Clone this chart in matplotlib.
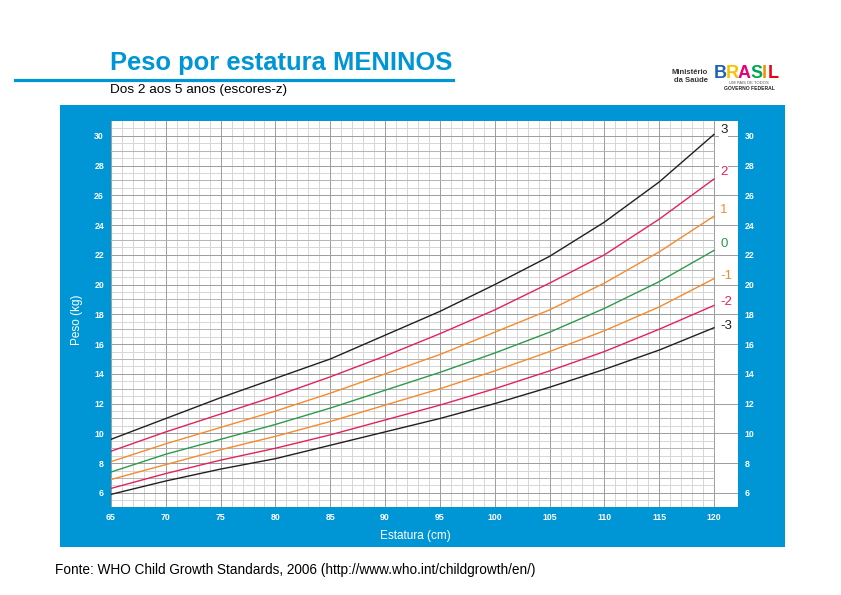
import matplotlib.pyplot as plt
from matplotlib.patches import Rectangle
from matplotlib.lines import Line2D

# estatura (cm) and weight for each z-score line (kg)
estatura = [65, 70, 75, 80, 85, 90, 95, 100, 105, 110, 115, 120]
z_m3 = [5.9, 6.8, 7.6, 8.3, 9.2, 10.1, 11.0, 12.0, 13.1, 14.3, 15.6, 17.1]
z_m2 = [6.3, 7.3, 8.2, 9.0, 9.9, 10.9, 11.9, 13.0, 14.2, 15.5, 17.0, 18.6]
z_m1 = [6.9, 7.9, 8.9, 9.8, 10.8, 11.9, 13.0, 14.2, 15.5, 16.9, 18.5, 20.4]
z_0 = [7.4, 8.6, 9.6, 10.6, 11.7, 12.9, 14.1, 15.4, 16.8, 18.4, 20.2, 22.3]
z_p1 = [8.1, 9.3, 10.4, 11.5, 12.7, 14.0, 15.3, 16.8, 18.3, 20.1, 22.2, 24.6]
z_p2 = [8.8, 10.1, 11.3, 12.5, 13.8, 15.2, 16.7, 18.3, 20.1, 22.0, 24.4, 27.1]
z_p3 = [9.6, 11.0, 12.4, 13.7, 15.0, 16.6, 18.2, 20.0, 21.9, 24.2, 26.9, 30.1]

z_labels = ['3', '2', '1', '0', '-1', '-2', '-3']
z_series = [z_p3, z_p2, z_p1, z_0, z_m1, z_m2, z_m3]
label_y = [30.4, 27.55, 25.0, 22.7, 20.6, 18.8, 17.2]

BLUE = '#0096d6'
BLACK = '#231f20'
RED = '#e2235a'
ORANGE = '#f58a2e'
GREEN = '#2c9a4b'
z_colors = [BLACK, RED, ORANGE, GREEN, ORANGE, RED, BLACK]

W, H = 841, 595
def fx(x):
    return x / W
def fy(y):
    return 1 - y / H

plt.rcParams['font.family'] = ['Liberation Sans', 'DejaVu Sans']
fig = plt.figure(figsize=(W / 100, H / 100), dpi=100)
fig.patch.set_facecolor('white')

# blue panel behind the chart
fig.patches.append(Rectangle((fx(60), fy(547)), fx(785) - fx(60), fy(105) - fy(547),
                             transform=fig.transFigure, facecolor=BLUE, edgecolor='none', zorder=-1))

# header
fig.text(fx(110), fy(70), 'Peso por estatura MENINOS', color=BLUE, fontsize=18.4,
         fontweight='bold', ha='left', va='baseline')
fig.lines.append(Line2D([fx(15), fx(453)], [fy(80), fy(80)], transform=fig.transFigure,
                        color=BLUE, linewidth=2.3))
fig.text(fx(110), fy(90), 'Dos 2 aos 5 anos (escores-z)', color='black', fontsize=9.7,
         ha='left', va='center')
fig.text(fx(55), fy(570), 'Fonte: WHO Child Growth Standards, 2006 (http://www.who.int/childgrowth/en/)',
         color='black', fontsize=9.8, ha='left', va='center')

# logo
fig.text(fx(708), fy(73), 'Ministério', fontsize=5.5, fontweight='bold', color='#333333',
         ha='right', va='center')
fig.text(fx(708), fy(81), 'da Saúde', fontsize=5.5, fontweight='bold', color='#333333',
         ha='right', va='center')
brasil_colors = ['#1c62b9', '#f6c200', '#e5007d', '#00a651', '#f39200', '#e30613']
brasil_x = [714, 726, 738, 750, 762, 768]
for ch, c, bx in zip('BRASIL', brasil_colors, brasil_x):
    fig.text(fx(bx), fy(73), ch, fontsize=13, fontweight='heavy', color=c,
             ha='left', va='center')
fig.text(fx(749), fy(83), 'UM PAÍS DE TODOS', fontsize=3, color='#555555', ha='center', va='center')
fig.text(fx(749), fy(88), 'GOVERNO FEDERAL', fontsize=3.6, fontweight='bold', color='#222222',
         ha='center', va='center')

# chart area
ax = fig.add_axes([fx(111), fy(507), fx(738) - fx(111), fy(121) - fy(507)])
ax.set_facecolor('white')
ax.set_xlim(65, 122.19)
ax.set_ylim(5.05, 31.0)
for s in ax.spines.values():
    s.set_visible(False)

# grid: 1 cm / 0.5 kg, darker every 5 cm and 2 kg
LIGHT, MID, DARK = '#d6d6d6', '#b4b4b4', '#9c9c9c'
for x in range(65, 121):
    dark = x % 5 == 0
    ax.plot([x, x], [5.05, 31.0], color=DARK if dark else LIGHT,
            linewidth=0.7, zorder=1 if dark else 0.5)
for k in range(10, 62):
    y = k / 2
    if k % 4 == 0:
        ax.axhline(y, color=DARK, linewidth=0.7, zorder=1)
    else:
        ax.plot([65, 120], [y, y], color=MID if k % 2 == 0 else LIGHT,
                linewidth=0.7, zorder=1 if k % 2 == 0 else 0.5)

for lab, vals, c, ly in zip(z_labels, z_series, z_colors, label_y):
    ax.plot(estatura, vals, color=c, linewidth=1.0, zorder=3)
    ax.text(120.55, ly, lab, color=c, fontsize=9.5, ha='left', va='center', zorder=4,
            bbox=dict(facecolor='white', edgecolor='none', pad=0.5))

ax.set_xticks(range(65, 121, 5))
ax.set_yticks(range(6, 31, 2))
ax.tick_params(axis='both', length=0, labelcolor='white', labelsize=6.3)
ax.tick_params(axis='x', pad=4.0)
ax.tick_params(axis='y', pad=5.0, labelright=True)
for t in ax.xaxis.get_major_ticks() + ax.yaxis.get_major_ticks():
    t.label1.set_fontweight('bold')
    t.label2.set_fontweight('bold')

fig.text(fx(415), fy(536), 'Estatura (cm)', color='white', fontsize=8.5, ha='center', va='center')
fig.text(fx(77), fy(320), 'Peso (kg)', color='white', fontsize=8.5, rotation=90,
         ha='center', va='center')

fig.savefig('out.png', dpi=100)
